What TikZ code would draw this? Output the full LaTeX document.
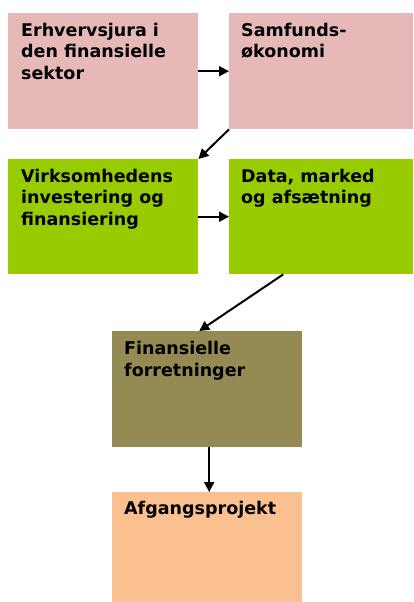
\documentclass[tikz,border=0pt]{standalone}
\usepackage{fontspec}
\setmainfont{DejaVu Sans}
\usetikzlibrary{arrows.meta}
\definecolor{pinkc}{HTML}{E6B8B7}
\definecolor{greenc}{HTML}{99CC00}
\definecolor{olivec}{HTML}{948A54}
\definecolor{peachc}{HTML}{FAC090}
\begin{document}
\begin{tikzpicture}[x=1pt,y=-1pt,
  box/.style={draw=none,fill=#1,inner sep=0,anchor=north west,minimum width=190pt,minimum height=116pt},
  lbl/.style={anchor=north west,inner sep=0,align=left,font=\fontsize{17.5}{21.5}\selectfont\bfseries},
  arr/.style={-{Triangle[length=10pt,width=10pt]},line width=2pt}]
\useasboundingbox (0,0) rectangle (413,602);
\node[box=pinkc,minimum width=190pt] (b1) at (8,13) {};
\node[box=pinkc,minimum width=184pt] (b2) at (229,13) {};
\node[box=greenc,minimum height=115pt] (b3) at (8,159) {};
\node[box=greenc,minimum width=184pt,minimum height=115pt] (b4) at (229,159) {};
\node[box=olivec] (b5) at (112,331) {};
\node[box=peachc,minimum height=110pt] (b6) at (112,492) {};
\node[lbl] (t1) at (21,23) {Erhvervsjura i\\den finansielle\\sektor};
\node[lbl] (t2) at (241,23) {Samfunds-\\økonomi};
\node[lbl] (t3) at (21,169) {Virksomhedens\\investering og\\finansiering};
\node[lbl] (t4) at (241,169) {Data, marked\\og afsætning};
\node[lbl] (t5) at (124,341) {Finansielle\\forretninger};
\node[lbl] (t6) at (124,501) {Afgangsprojekt};
\draw[arr] (b1.east) -- (b2.west);
\draw[arr] (b2.south west) -- (b3.north east);
\draw[arr] (b3.east) -- (b4.west);
\draw[arr] ([xshift=-38pt]b4.south) -- ([xshift=-8pt]b5.north);
\draw[arr] ([xshift=2pt]b5.south) -- ([xshift=2pt]b6.north);
\end{tikzpicture}
\end{document}
